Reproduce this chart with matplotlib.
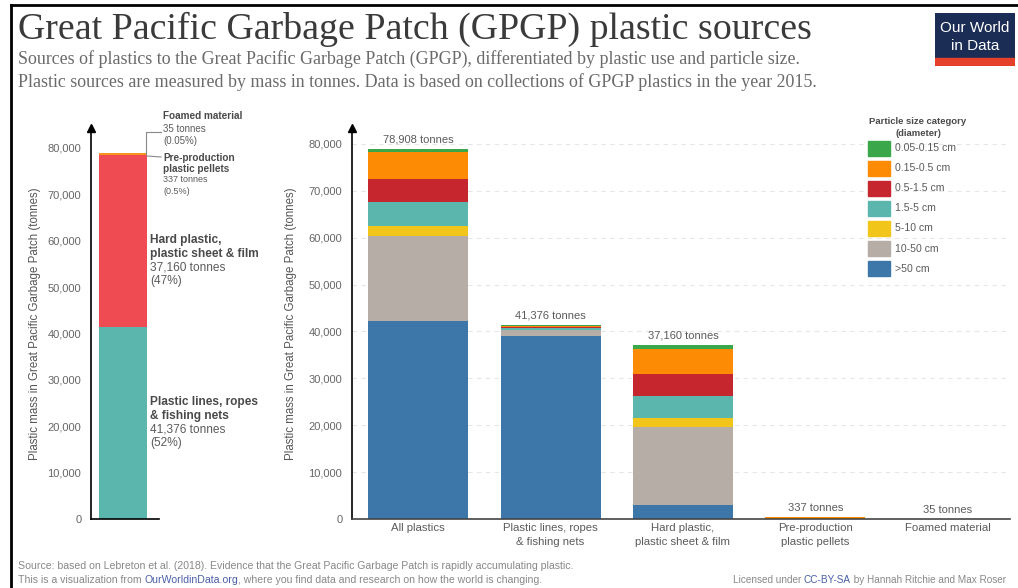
import numpy as np
import matplotlib
matplotlib.use("Agg")
import matplotlib.pyplot as plt
from matplotlib.patches import Rectangle

# --- data --- #

size_categories = [">50 cm", "10-50 cm", "5-10 cm", "1.5-5 cm", "0.5-1.5 cm", "0.15-0.5 cm", "0.05-0.15 cm"]
size_colors = ["#3d76a8", "#b6ada6", "#f2c51a", "#5bb6ae", "#c6262e", "#fd8b04", "#3aa84a"]

sources = ["All plastics", "Plastic lines, ropes\n& fishing nets", "Hard plastic,\nplastic sheet & film",
           "Pre-production\nplastic pellets", "Foamed material"]
source_totals = [78908, 41376, 37160, 337, 35]
total_labels = ["78,908 tonnes", "41,376 tonnes", "37,160 tonnes", "337 tonnes", "35 tonnes"]

# tonnes per particle size (rows follow size_categories), columns follow sources
size_gt50 = [42200, 38950, 3000, 0, 0]
size_10_50 = [18200, 1300, 16600, 0, 0]
size_5_10 = [2100, 150, 1900, 0, 0]
size_1p5_5 = [5100, 300, 4700, 0, 0]
size_0p5_1p5 = [4900, 200, 4800, 0, 0]
size_0p15_0p5 = [5800, 250, 5300, 337, 35]
size_0p05_0p15 = [608, 226, 860, 0, 0]
size_values = [size_gt50, size_10_50, size_5_10, size_1p5_5, size_0p5_1p5, size_0p15_0p5, size_0p05_0p15]

# left chart: share of the total by source
left_sources = ["Plastic lines, ropes & fishing nets", "Hard plastic, plastic sheet & film",
                "Pre-production plastic pellets", "Foamed material"]
left_values = [41376, 37160, 337, 35]
left_colors = ["#5bb7ae", "#ee4b52", "#f7941d", "#f2c51a"]

y_ticks = [0, 10000, 20000, 30000, 40000, 50000, 60000, 70000, 80000]

# --- layout helpers --- #

W, H = 1018, 588
fig = plt.figure(figsize=(W / 100, H / 100), dpi=100)
fig.patch.set_facecolor("white")

def rect(x0, y0, x1, y1):
	"""pixel box (top-left, bottom-right) to figure fraction rect"""
	return [x0 / W, 1 - y1 / H, (x1 - x0) / W, (y1 - y0) / H]

def ftext(x, y, s, **kw):
	kw.setdefault("va", "center")
	kw.setdefault("family", "Liberation Sans")
	return fig.text(x / W, 1 - y / H, s, **kw)

grey = "#5b5b5b"
dark = "#4a4a4a"

# --- frame lines --- #
fig.add_artist(plt.Line2D([11 / W, 1], [1 - 5 / H, 1 - 5 / H], color="black", lw=2))
fig.add_artist(plt.Line2D([11 / W, 11 / W], [0, 1 - 5 / H], color="black", lw=2))

# --- title --- #
ftext(18, 29, "Great Pacific Garbage Patch (GPGP) plastic sources", family="Liberation Serif",
      fontsize=27.3, color="#3a3a3a")
ftext(18, 59, "Sources of plastics to the Great Pacific Garbage Patch (GPGP), differentiated by plastic use and particle size.",
      family="Liberation Serif", fontsize=12.9, color="#6a6a6a")
ftext(18, 82, "Plastic sources are measured by mass in tonnes. Data is based on collections of GPGP plastics in the year 2015.",
      family="Liberation Serif", fontsize=12.9, color="#6a6a6a")

# logo
logo = fig.add_axes(rect(935, 13, 1015, 66))
logo.set_xlim(0, 1)
logo.set_ylim(0, 1)
logo.axis("off")
logo.add_patch(Rectangle((0, 0), 1, 1, color="#1b2d55"))
logo.add_patch(Rectangle((0, 0), 1, 0.15, color="#e5412a"))
logo.text(0.5, 0.72, "Our World", color="white", ha="center", va="center", fontsize=11, family="Liberation Sans")
logo.text(0.5, 0.38, "in Data", color="white", ha="center", va="center", fontsize=11, family="Liberation Sans")

# --- left chart --- #
axl = fig.add_axes(rect(91, 128, 159, 519))
bottom = 0
for val, col in zip(left_values, left_colors):
	axl.bar(0.47, val, width=0.706, bottom=bottom, color=col, linewidth=0)
	bottom += val
axl.set_xlim(0, 1)
axl.set_ylim(0, 84270)
axl.set_yticks(y_ticks)
axl.set_yticklabels([f"{t:,}" for t in y_ticks], fontsize=8, color="#666666", family="Liberation Sans")
axl.tick_params(axis="y", length=0, pad=7)
axl.set_xticks([])
for s in ["top", "right"]:
	axl.spines[s].set_visible(False)
axl.spines["left"].set_linewidth(1.2)
axl.spines["bottom"].set_linewidth(1.2)
axl.plot(0, 1, marker="^", color="black", markersize=6, transform=axl.transAxes, clip_on=False)
axl.set_ylabel("Plastic mass in Great Pacific Garbage Patch (tonnes)", fontsize=8.3, color="#555555",
               family="Liberation Sans", labelpad=5)

# left annotations
ftext(150, 240, "Hard plastic,", fontsize=8.6, weight="bold", color=dark)
ftext(150, 254, "plastic sheet & film", fontsize=8.6, weight="bold", color=dark)
ftext(150, 267, f"{left_values[1]:,} tonnes", fontsize=8.6, color=grey)
ftext(150, 281, "(47%)", fontsize=8.6, color=grey)
ftext(150, 402, "Plastic lines, ropes", fontsize=8.6, weight="bold", color=dark)
ftext(150, 416, "& fishing nets", fontsize=8.6, weight="bold", color=dark)
ftext(150, 429, f"{left_values[0]:,} tonnes", fontsize=8.6, color=grey)
ftext(150, 443, "(52%)", fontsize=8.6, color=grey)

ftext(163, 116, "Foamed material", fontsize=7.2, weight="bold", color=dark)
ftext(163, 129, f"{left_values[3]} tonnes", fontsize=7, color=grey)
ftext(163, 141, "(0.05%)", fontsize=7, color=grey)
ftext(163, 158, "Pre-production", fontsize=7.2, weight="bold", color=dark)
ftext(163, 169, "plastic pellets", fontsize=7.2, weight="bold", color=dark)
ftext(163, 180, f"{left_values[2]} tonnes", fontsize=6.5, color=grey)
ftext(163, 191, "(0.5%)", fontsize=6.5, color=grey)

fig.add_artist(plt.Line2D([146 / W, 146 / W, 161 / W], [1 - 154 / H, 1 - 132 / H, 1 - 132 / H], color="#888888", lw=0.8))
fig.add_artist(plt.Line2D([147 / W, 161 / W], [1 - 156 / H, 1 - 157 / H], color="#888888", lw=0.8))

# --- right chart --- #
ax = fig.add_axes(rect(352, 128, 1010, 519))
x = np.arange(len(sources))
bottom = np.zeros(len(sources))
for vals, col, lab in zip(size_values, size_colors, size_categories):
	ax.bar(x, vals, width=0.755, bottom=bottom, color=col, linewidth=0, label=lab, zorder=2)
	bottom += np.array(vals)
for xi, tot, lab in zip(x, source_totals, total_labels):
	ax.text(xi, tot + 900, lab, ha="center", va="bottom", fontsize=8, color=grey, family="Liberation Sans")

ax.set_xlim(-0.5, 4.47)
ax.set_ylim(0, 83400)
ax.set_yticks(y_ticks)
ax.set_yticklabels([f"{t:,}" for t in y_ticks], fontsize=8, color="#666666", family="Liberation Sans")
ax.tick_params(axis="y", length=0, pad=7)
ax.set_xticks(x)
ax.set_xticklabels(sources, fontsize=8.2, color=grey, family="Liberation Sans", linespacing=1.5)
ax.tick_params(axis="x", length=0, pad=3)
for s in ["top", "right"]:
	ax.spines[s].set_visible(False)
ax.spines["left"].set_linewidth(1.2)
ax.spines["bottom"].set_linewidth(1.2)
ax.spines["bottom"].set_color("#444444")
ax.plot(0, 1, marker="^", color="black", markersize=6, transform=ax.transAxes, clip_on=False)
ax.yaxis.grid(True, linestyle=(0, (4, 4)), color="#e6e6e6", lw=0.8, zorder=0)
ax.set_axisbelow(True)
ax.set_ylabel("Plastic mass in Great Pacific Garbage Patch (tonnes)", fontsize=8.3, color="#555555",
              family="Liberation Sans", labelpad=8)

# legend
ftext(918, 122, "Particle size category", fontsize=6.8, weight="bold", color=dark, ha="center")
ftext(918, 133, "(diameter)", fontsize=6.8, weight="bold", color=dark, ha="center")
for i, (lab, col) in enumerate(zip(size_categories[::-1], size_colors[::-1])):
	yc = 148 + i * 20.1
	fig.add_artist(Rectangle((868 / W, 1 - (yc + 7.5) / H), 22 / W, 15 / H, color=col, transform=fig.transFigure))
	ftext(895, yc, lab, fontsize=7.6, color=grey)

# --- footer --- #
ftext(18, 566, "Source: based on Lebreton et al. (2018). Evidence that the Great Pacific Garbage Patch is rapidly accumulating plastic.",
      fontsize=7.6, color="#888888")
t1 = ftext(18, 580, "This is a visualization from ", fontsize=7.6, color="#888888")
fig.canvas.draw()
bb = t1.get_window_extent()
t2 = ftext(bb.x1, 580, "OurWorldinData.org", fontsize=7.6, color="#4a5fa8")
bb = t2.get_window_extent()
ftext(bb.x1, 580, ", where you find data and research on how the world is changing.", fontsize=7.6, color="#888888")

t3 = ftext(733, 580, "Licensed under ", fontsize=7.2, color="#888888")
bb = t3.get_window_extent()
t4 = ftext(bb.x1, 580, "CC-BY-SA", fontsize=7.2, color="#4a5fa8")
bb = t4.get_window_extent()
ftext(bb.x1, 580, " by Hannah Ritchie and Max Roser", fontsize=7.2, color="#888888")

fig.savefig("out.png", dpi=100)
